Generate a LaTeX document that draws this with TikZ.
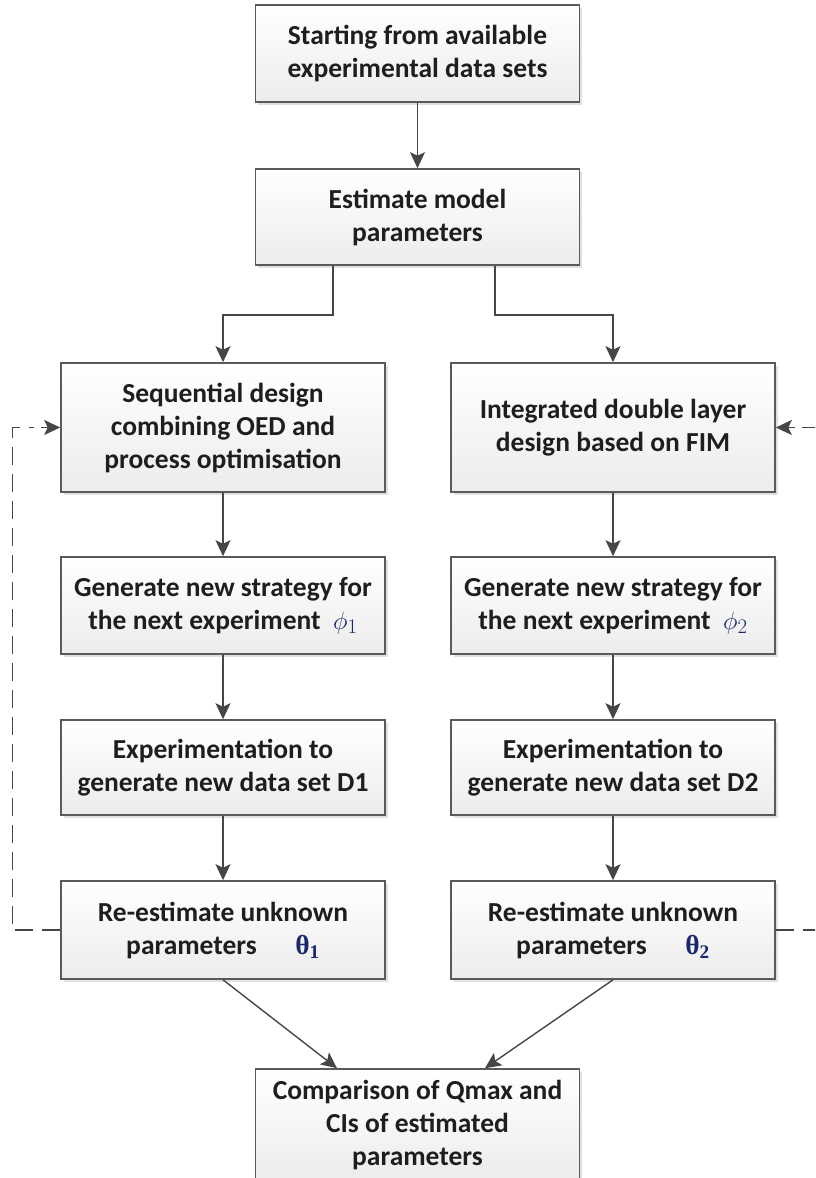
\documentclass[tikz,border=0pt]{standalone}
\usepackage{fontspec}
\setmainfont{Carlito}
\newfontfamily\thetafont{Liberation Serif}
\usetikzlibrary{arrows.meta,shadows}
\tikzset{
  flow-box/.style={
    draw=boxborder,
    line width=1.6pt,
    top color=white,
    bottom color=boxshade,
    drop shadow={shadow xshift=2.5pt, shadow yshift=-2.5pt, fill=black, opacity=0.12},
    minimum width=324pt,
    minimum height=97pt,
    inner sep=0pt,
    align=center,
    text=textdark,
    font=\fontsize{27.5}{33}\selectfont\bfseries
  },
  tall-box/.style={flow-box, minimum height=129pt},
  flow-line/.style={draw=linegray, line width=1.4pt},
  flow-arrow/.style={flow-line, -{Stealth[length=16pt,width=15pt,inset=3.5pt]}},
  loop-line/.style={flow-line, dash pattern=on 18pt off 9pt}
}
\definecolor{boxborder}{RGB}{90,90,90}
\definecolor{boxshade}{RGB}{236,236,236}
\definecolor{linegray}{RGB}{70,70,70}
\definecolor{textdark}{RGB}{30,30,30}
\definecolor{greekblue}{RGB}{25,40,110}
\newcommand{\phisub}[1]{\textcolor{greekblue}{$\phi_{#1}$}}
\newcommand{\thetasub}[1]{\textcolor{greekblue}{\thetafont\bfseries θ\textsubscript{#1}}}

\begin{document}
\begin{tikzpicture}[x=1pt,y=-1pt]
  \clip (0,0) rectangle (815,1178);

  % 1. Common trunk
  \node[flow-box] (start) at (417.5,53.5) {Starting from available\\experimental data sets};
  \node[flow-box, minimum height=96pt] (estimate) at (417.5,217) {Estimate model\\parameters};

  % 2. Left branch (sequential design)
  \node[tall-box] (seq) at (223,427.5) {Sequential design\\combining OED and\\process optimisation};
  \node[flow-box] (stratA) at (223,605.5) {Generate new strategy for\\the next experiment\ \ \phisub{1}};
  \node[flow-box, minimum height=95pt] (exptA) at (223,767.5) {Experimentation to\\generate new data set D1};
  \node[flow-box, minimum height=98pt] (reestA) at (223,930) {Re-estimate unknown\\parameters\hspace{1.4em}\thetasub{1}};

  % 3. Right branch (integrated double layer design)
  \node[tall-box] (intg) at (613,427.5) {Integrated double layer\\design based on FIM};
  \node[flow-box] (stratB) at (613,605.5) {Generate new strategy for\\the next experiment\ \ \phisub{2}};
  \node[flow-box, minimum height=95pt] (exptB) at (613,767.5) {Experimentation to\\generate new data set D2};
  \node[flow-box, minimum height=98pt] (reestB) at (613,930) {Re-estimate unknown\\parameters\hspace{1.4em}\thetasub{2}};

  % 4. Final comparison (runs off the bottom edge)
  \node[flow-box, minimum height=111pt] (compare) at (417.5,1124.5) {Comparison of Qmax and\\CIs of estimated\\parameters};

  % arrows down the trunk and the two columns
  \draw[flow-arrow] (start) -- (estimate);
  \draw[flow-arrow] ([xshift=-84.5pt]estimate.south) -- ++(0,49) -| (seq.north);
  \draw[flow-arrow] ([xshift=77.5pt]estimate.south) -- ++(0,49) -| (intg.north);
  \draw[flow-arrow] (seq) -- (stratA);
  \draw[flow-arrow] (stratA) -- (exptA);
  \draw[flow-arrow] (exptA) -- (reestA);
  \draw[flow-arrow] (intg) -- (stratB);
  \draw[flow-arrow] (stratB) -- (exptB);
  \draw[flow-arrow] (exptB) -- (reestB);
  \draw[flow-arrow] (reestA.south) -- ([xshift=-80.5pt]compare.north);
  \draw[flow-arrow] (reestB.south) -- ([xshift=67.5pt]compare.north);

  % dashed feedback loops, solid tip at the end
  \coordinate (loopA) at ([xshift=-19pt]seq.west);
  \coordinate (loopB) at ([xshift=19pt]intg.east);
  \draw[loop-line] (reestA.west) -- ++(-48,0) |- ([xshift=-7pt]loopA);
  \draw[flow-arrow] (loopA) -- (seq.west);
  \draw[loop-line] (reestB.east) -- ++(52,0) |- ([xshift=7pt]loopB);
  \draw[flow-arrow] (loopB) -- (intg.east);

\end{tikzpicture}
\end{document}
